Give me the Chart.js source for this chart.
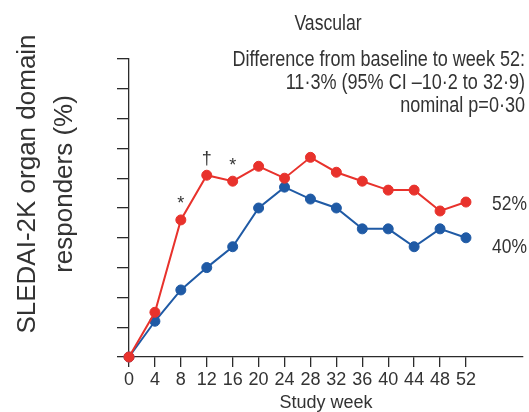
<!DOCTYPE html>
<html>
<head>
<meta charset="utf-8">
<script src="https://cdn.jsdelivr.net/npm/chart.js@4.4.0/dist/chart.umd.min.js"></script>
<style>
  html, body { margin: 0; padding: 0; background: #ffffff; overflow: hidden; }
  canvas { display: block; }
</style>
</head>
<body>
<canvas id="chart" width="529" height="412"></canvas>
<script>
// ---- data ----
const weeks = [0, 4, 8, 12, 16, 20, 24, 28, 32, 36, 40, 44, 48, 52];
const weekTicks = [0, 4, 8, 12, 16, 20, 24, 28, 32, 36, 40, 44, 48, 52];
const percentTicks = [0, 10, 20, 30, 40, 50, 60, 70, 80, 90, 100];
const redGroup = [0, 15, 46, 61, 59, 64, 60, 67, 62, 59, 56, 56, 49, 52];
const blueGroup = [0, 12, 22.5, 30, 37, 50, 57, 53, 50, 43, 43, 37, 43, 40];
const redMarks = ['', '', '*', '\u2020', '*', '', '', '', '', '', '', '', '', ''];
const endLabels = ['52%', '40%'];
const panelTitle = 'Vascular';
const noteLines = [
  'Difference from baseline to week 52:',
  '11\u00b73% (95% CI \u201310\u00b72 to 32\u00b79)',
  'nominal p=0\u00b730'
];
const yTitleLines = ['SLEDAI-2K organ domain', 'responders (%)'];
const xTitle = 'Study week';

// ---- style ----
const RED = '#e8322c';
const BLUE = '#1f5aa5';
const INK = '#333333';
const AXIS = '#2b2b2b';
const FAMILY = '"Liberation Sans", Arial, sans-serif';

function squeezedText(ctx, text, x, y, size, align, squeeze) {
  ctx.save();
  ctx.font = size + 'px ' + FAMILY;
  ctx.fillStyle = INK;
  ctx.textAlign = align;
  ctx.textBaseline = 'alphabetic';
  ctx.translate(x, y);
  ctx.scale(squeeze, 1);
  ctx.fillText(text, 0, 0);
  ctx.restore();
}

const annotations = {
  id: 'annotations',
  afterDatasetsDraw(chart) {
    const ctx = chart.ctx;
    // significance marks above the red series
    const redMeta = chart.getDatasetMeta(0);
    ctx.save();
    ctx.font = '18px ' + FAMILY;
    ctx.fillStyle = INK;
    ctx.textAlign = 'center';
    ctx.textBaseline = 'alphabetic';
    redMarks.forEach((m, i) => {
      if (!m) return;
      const pt = redMeta.data[i];
      const mt = ctx.measureText(m);
      const lift = m === '*' ? 20 : 16.5;
      const cy = pt.y - lift;
      const base = cy + (mt.actualBoundingBoxAscent - mt.actualBoundingBoxDescent) / 2;
      ctx.fillText(m, pt.x, base);
    });
    ctx.restore();

    // end-of-study percentages
    const blueMeta = chart.getDatasetMeta(1);
    const lastRed = redMeta.data[redMeta.data.length - 1];
    const lastBlue = blueMeta.data[blueMeta.data.length - 1];
    squeezedText(ctx, endLabels[0], 492, lastRed.y + 8, 21, 'left', 0.83);
    squeezedText(ctx, endLabels[1], 492, lastBlue.y + 15, 21, 'left', 0.83);
  },
  afterDraw(chart) {
    const ctx = chart.ctx;
    squeezedText(ctx, panelTitle, 328, 30, 22, 'center', 0.8);
    const baselines = [66, 89, 112];
    noteLines.forEach((t, i) => squeezedText(ctx, t, 525, baselines[i], 22, 'right', 0.82));

    // rotated y-axis title, two lines
    ctx.save();
    ctx.font = '26px ' + FAMILY;
    ctx.fillStyle = INK;
    ctx.textAlign = 'center';
    ctx.textBaseline = 'alphabetic';
    const xs = [35, 72];
    yTitleLines.forEach((t, i) => {
      ctx.save();
      ctx.translate(xs[i], 184);
      ctx.rotate(-Math.PI / 2);
      ctx.fillText(t, 0, 0);
      ctx.restore();
    });
    ctx.restore();
  }
};

new Chart(document.getElementById('chart'), {
  type: 'line',
  data: {
    datasets: [
      {
        label: 'Red group',
        data: weeks.map((w, i) => ({ x: w, y: redGroup[i] })),
        borderColor: RED,
        backgroundColor: RED,
        pointBackgroundColor: RED,
        pointBorderColor: RED,
        borderWidth: 2,
        pointRadius: 5,
        pointBorderWidth: 1,
        tension: 0,
        clip: false
      },
      {
        label: 'Blue group',
        data: weeks.map((w, i) => ({ x: w, y: blueGroup[i] })),
        borderColor: BLUE,
        backgroundColor: BLUE,
        pointBackgroundColor: BLUE,
        pointBorderColor: BLUE,
        borderWidth: 2,
        pointRadius: 5,
        pointBorderWidth: 1,
        tension: 0,
        clip: false
      }
    ]
  },
  options: {
    responsive: false,
    animation: false,
    devicePixelRatio: 1,
    events: [],
    layout: { padding: { top: 59, left: 0, right: 0, bottom: 0 } },
    plugins: { legend: { display: false }, tooltip: { enabled: false }, title: { display: false } },
    scales: {
      x: {
        type: 'linear',
        min: 0,
        max: 60.8,
        afterBuildTicks: s => { s.ticks = weekTicks.map(v => ({ value: v })); },
        afterFit: s => { s.height = 55; },
        ticks: {
          color: INK,
          font: { family: FAMILY, size: 18 },
          padding: 2,
          maxRotation: 0,
          autoSkip: false
        },
        grid: { drawOnChartArea: false, drawTicks: true, tickLength: 10, color: AXIS, lineWidth: 1.3 },
        border: { display: true, color: AXIS, width: 1.3 },
        title: {
          display: true,
          text: xTitle,
          color: INK,
          font: { family: FAMILY, size: 18, lineHeight: 1 },
          padding: { top: 0, bottom: 0 }
        }
      },
      y: {
        min: 0,
        max: 100,
        afterBuildTicks: s => { s.ticks = percentTicks.map(v => ({ value: v })); },
        afterFit: s => { s.width = 129; },
        ticks: { display: false },
        grid: { drawOnChartArea: false, drawTicks: true, tickLength: 12, color: AXIS, lineWidth: 1.3 },
        border: { display: true, color: AXIS, width: 1.3 }
      }
    }
  },
  plugins: [annotations]
});
</script>
</body>
</html>
